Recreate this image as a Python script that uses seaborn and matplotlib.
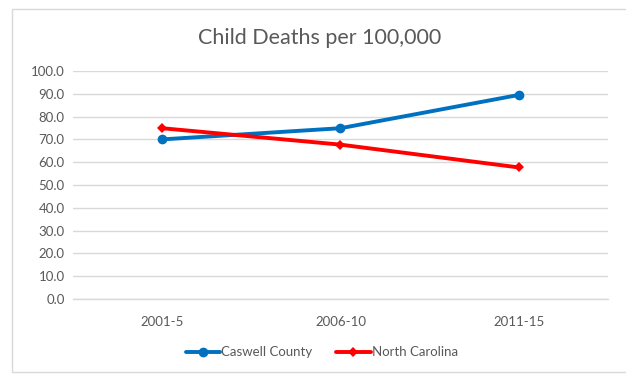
import matplotlib
matplotlib.use("Agg")
import matplotlib.pyplot as plt
import seaborn as sns
import pandas as pd
from matplotlib.patches import Rectangle
from matplotlib.lines import Line2D

periods = ["2001-5", "2006-10", "2011-15"]
caswell = [70.0, 74.9, 89.5]
north_carolina = [74.9, 67.7, 57.7]
series_names = ["Caswell County", "North Carolina"]
y_ticks = [0, 10, 20, 30, 40, 50, 60, 70, 80, 90, 100]

df = pd.DataFrame({
    "period": periods * 2,
    "x": list(range(len(periods))) * 2,
    "value": caswell + north_carolina,
    "series": [series_names[0]] * 3 + [series_names[1]] * 3,
})

sns.set_style("white")
plt.rcParams["font.family"] = ["Lato", "DejaVu Sans"]
text_color = "#595959"
grid_color = "#D9D9D9"

fig = plt.figure(figsize=(6.26, 3.74), dpi=100)
ax = fig.add_axes([0.1166, 0.2005, 0.8546, 0.6097])

palette = {"Caswell County": "#0070C0", "North Carolina": "#FF0000"}
markers = {"Caswell County": "o", "North Carolina": "D"}
msize = {"Caswell County": 7, "North Carolina": 5.2}
sns.lineplot(data=df, x="x", y="value", hue="series", style="series",
             palette=palette, markers=markers, dashes=False, linewidth=2.8,
             markersize=7, markeredgewidth=0, ax=ax, legend=False)
for line in ax.lines:
    if line.get_marker() == "D":
        line.set_markersize(msize["North Carolina"])

ax.set_xlim(-0.5, len(periods) - 0.5)
ax.set_ylim(0, 100)
ax.set_yticks(y_ticks)
ax.set_yticklabels([f"{v:.1f}" for v in y_ticks])
ax.set_xticks(range(len(periods)))
ax.set_xticklabels(periods)
ax.yaxis.grid(True, color=grid_color, linewidth=1)
ax.set_axisbelow(True)
for s in ["top", "right", "left"]:
    ax.spines[s].set_visible(False)
ax.spines["bottom"].set_color(grid_color)
ax.spines["bottom"].set_linewidth(1)
ax.tick_params(axis="both", length=0, labelsize=9.5, colors=text_color, pad=6)
ax.tick_params(axis="x", pad=12)
ax.set_xlabel("")
ax.set_ylabel("")

fig.text(0.511, 0.898, "Child Deaths per 100,000", ha="center", va="center",
         fontsize=15.5, color=text_color)

handles = [Line2D([], [], color=palette[n], marker=markers[n], linewidth=2.8,
                  markersize=msize[n], markeredgewidth=0)
           for n in series_names]
fig.legend(handles, series_names, loc="center", bbox_to_anchor=(0.514, 0.058),
           ncol=2, frameon=False, fontsize=9.5, labelcolor=text_color,
           handlelength=2.6, handletextpad=0.1, columnspacing=1.8)

fig.patches.append(Rectangle((12 / 626, 0.005), 1.2, 1 - 9 / 374 - 0.005,
                             transform=fig.transFigure, fill=False,
                             edgecolor="#D9D9D9", linewidth=1))

fig.savefig("out.png", dpi=100)
